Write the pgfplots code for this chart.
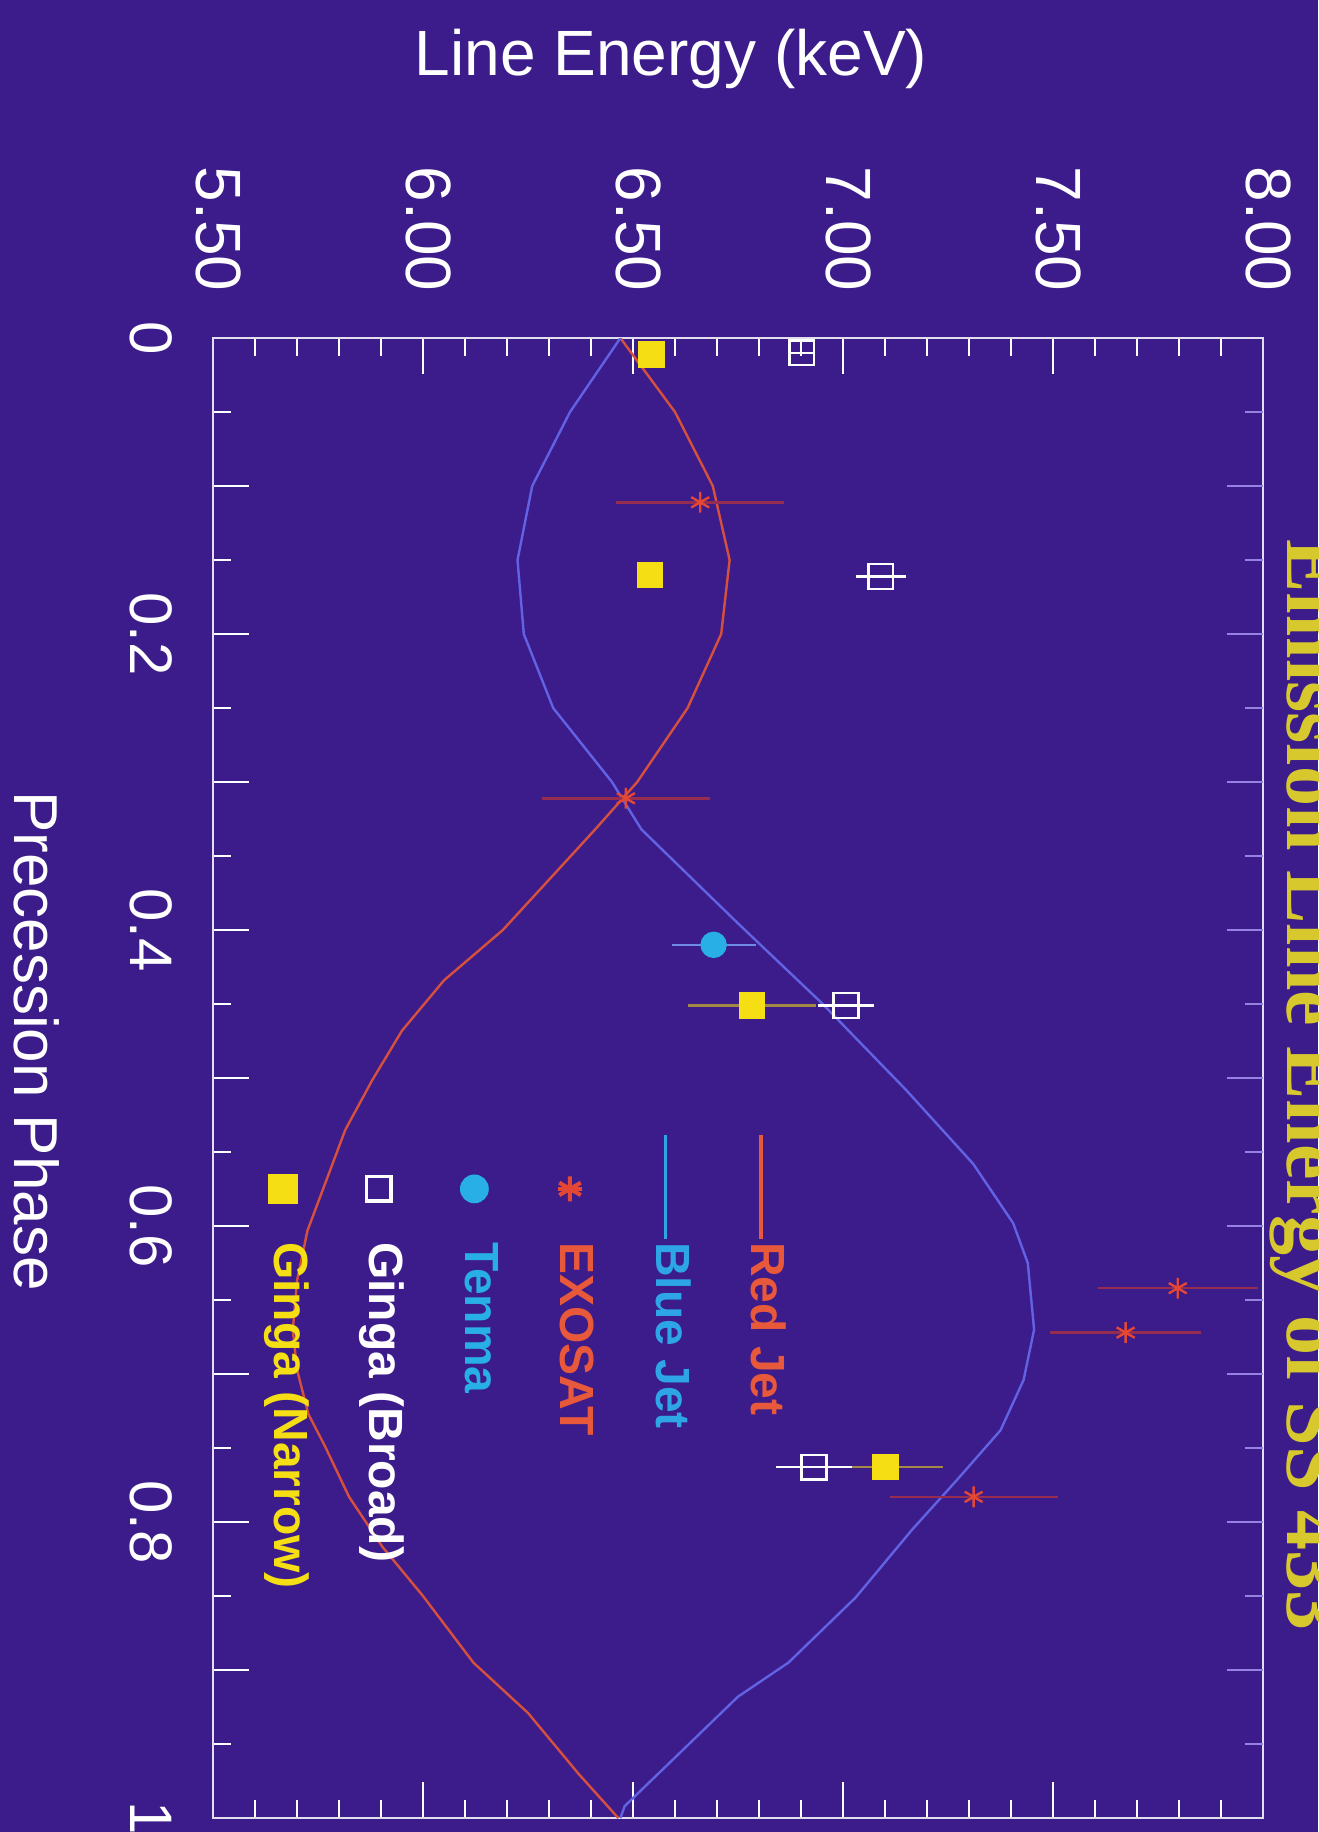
\documentclass[border=0pt]{standalone}
\usepackage{pgfplots}
\pgfplotsset{compat=1.18}
\usepackage{pgfplotstable}
\usepackage{fontspec}
\setmainfont{Liberation Sans}
\newfontfamily\seriffont{Liberation Serif}
\definecolor{bg}{RGB}{60,28,138}
\definecolor{axiscol}{RGB}{225,222,238}
\definecolor{rightticks}{RGB}{150,130,225}
\definecolor{redjet}{RGB}{214,80,62}
\definecolor{bluejet}{RGB}{98,98,228}
\definecolor{legblue}{RGB}{45,165,230}
\definecolor{legred}{RGB}{232,88,58}
\definecolor{exo}{RGB}{228,72,52}
\definecolor{exobar}{RGB}{150,45,80}
\definecolor{tenma}{RGB}{40,175,230}
\definecolor{tenmabar}{RGB}{110,140,230}
\definecolor{ginga}{RGB}{245,222,20}
\definecolor{gingabar}{RGB}{165,135,70}
\definecolor{titlecol}{RGB}{215,200,45}
\newcommand\legtxt[2]{\rotatebox{-90}{\rule[-3pt]{0pt}{12pt}\textcolor{#1}{#2}}}

\pgfplotstableread{
p E
0.000 6.47
0.050 6.60
0.100 6.69
0.150 6.73
0.200 6.71
0.250 6.63
0.300 6.51
0.332 6.41
0.400 6.19
0.434 6.05
0.468 5.95
0.501 5.88
0.535 5.815
0.569 5.77
0.603 5.725
0.637 5.70
0.670 5.69
0.697 5.70
0.727 5.727
0.749 5.767
0.783 5.824
0.817 5.904
0.850 6.00
0.895 6.12
0.929 6.25
0.970 6.37
1.000 6.465
}\redjettab

\pgfplotstableread{
p E
0.000 6.47
0.050 6.35
0.100 6.26
0.150 6.225
0.200 6.24
0.250 6.31
0.300 6.45
0.332 6.52
0.3955 6.75
0.4495 6.95
0.508 7.15
0.558 7.31
0.598 7.405
0.625 7.44
0.670 7.455
0.704 7.43
0.738 7.375
0.772 7.27
0.805 7.165
0.851 7.03
0.895 6.87
0.918 6.75
0.992 6.48
1.000 6.47
}\bluejettab

\pgfplotstableread{
p E err
0.111 6.660 0.20
0.311 6.483 0.20
0.642 7.797 0.19
0.672 7.673 0.18
0.783 7.311 0.20
}\exosattab

\pgfplotstableread{
p E err
0.410 6.692 0.10
}\tenmatab

\pgfplotstableread{
p E err
0.010 6.902 0.03
0.161 7.090 0.06
0.451 7.007 0.067
0.763 6.931 0.09
}\broadtab

\pgfplotstableread{
p E err
0.011 6.544 0.03
0.160 6.540 0.0
0.451 6.784 0.152
0.763 7.101 0.137
}\narrowtab

\begin{document}
\begin{tikzpicture}
\fill[bg] (0pt,0pt) rectangle (329.5pt,-458pt);
\begin{axis}[
  at={(184.5pt,-269.5pt)}, anchor=center,
  scale only axis, width=262.5pt, height=370pt,
  xmin=5.5, xmax=8, ymin=0, ymax=1, y dir=reverse,
  axis line style={draw=axiscol, line width=0.7pt},
  tick align=inside,
  major tick length=9pt, minor tick length=4.5pt,
  tick style={draw=white, line width=0.7pt},
  xtick={5.5,6,6.5,7,7.5,8},
  xticklabels={5.50,6.00,6.50,7.00,7.50,8.00},
  minor x tick num=4,
  xtick pos=both,
  xticklabel pos=top,
  xticklabel style={font=\fontsize{16}{16}\selectfont, text=white, xshift=1.5pt, rotate=-90, anchor=east, inner sep=0pt},
  xticklabel shift=11.5pt,
  ytick={0,0.1,0.2,0.3,0.4,0.5,0.6,0.7,0.8,0.9,1},
  yticklabels={0,,0.2,,0.4,,0.6,,0.8,,1},
  minor ytick={0.05,0.15,0.25,0.35,0.45,0.55,0.65,0.75,0.85,0.95},
  ytick pos=left,
  yticklabel style={font=\fontsize{15}{15}\selectfont, text=white, rotate=-90, anchor=north, inner sep=0pt},
  yticklabel shift=10pt,
  /pgf/number format/assume math mode=true,
  legend columns=6,
  legend style={at={(axis cs:6.890,0.6045)}, anchor=north east,
    draw=none, fill=none, inner sep=0pt, column sep=0pt,
    /tikz/every even column/.append style={column sep=7.9pt},
    font=\bfseries\fontsize{12}{14}\selectfont},
  legend cell align=left,
  legend style={cells={anchor=north west, inner sep=0pt}},
]
\addplot[forget plot, redjet, line width=0.6pt] table[x=E, y=p]{\redjettab};
\addplot[forget plot, bluejet, line width=0.6pt] table[x=E, y=p]{\bluejettab};
\addplot[forget plot, only marks, mark=square*, mark size=3.1pt,
  mark options={fill=ginga, draw=ginga},
  error bars/.cd, x dir=both, x explicit, error mark=none,
  error bar style={gingabar, line width=0.6pt}]
  table[x=E, y=p, x error=err]{\narrowtab};
\addplot[forget plot, only marks, mark=square, mark size=3.1pt,
  mark options={draw=white, line width=0.6pt},
  error bars/.cd, x dir=both, x explicit, error mark=none,
  error bar style={white, line width=0.6pt}]
  table[x=E, y=p, x error=err]{\broadtab};
\addplot[forget plot, only marks, mark=*, mark size=3.1pt,
  mark options={fill=tenma, draw=tenma},
  error bars/.cd, x dir=both, x explicit, error mark=none,
  error bar style={tenmabar, line width=0.6pt}]
  table[x=E, y=p, x error=err]{\tenmatab};
\addplot[forget plot, only marks, mark=asterisk, mark size=2.6pt,
  mark options={draw=exo, line width=0.6pt},
  error bars/.cd, x dir=both, x explicit, error mark=none,
  error bar style={exobar, line width=0.6pt}]
  table[x=E, y=p, x error=err]{\exosattab};

\addlegendimage{legend image code/.code={\fill[overlay, ginga] (3.8pt,7.65pt) rectangle (10.8pt,14.65pt);}}
\addlegendentry{\legtxt{ginga}{Ginga (Narrow)}}
\addlegendimage{legend image code/.code={\draw[overlay, white, line width=0.9pt] (4.2pt,8.05pt) rectangle (10.4pt,14.25pt);}}
\addlegendentry{\legtxt{white}{Ginga (Broad)}}
\addlegendimage{legend image code/.code={\fill[overlay, tenma] (7.3pt,11.15pt) circle[radius=3.4pt];}}
\addlegendentry{\legtxt{tenma}{Tenma}}
\addlegendimage{legend image code/.code={\draw[overlay, exo, line width=1pt] plot[only marks, mark=asterisk, mark size=3.1pt] coordinates {(7.3pt,11.15pt)};
  \draw[overlay, exo, line width=1pt] plot[only marks, mark=-, mark size=3.1pt] coordinates {(7.3pt,11.15pt)};}}
\addlegendentry{\legtxt{legred}{EXOSAT}}
\addlegendimage{legend image code/.code={\draw[overlay, legblue, line width=0.85pt] (7.3pt,-1.35pt) -- (7.3pt,24.65pt);}}
\addlegendentry{\legtxt{legblue}{Blue Jet}}
\addlegendimage{legend image code/.code={\draw[overlay, legred, line width=1pt] (7.3pt,-1.35pt) -- (7.3pt,24.65pt);}}
\addlegendentry{\legtxt{legred}{Red Jet}}
\end{axis}
\begin{axis}[
  at={(184.5pt,-269.5pt)}, anchor=center,
  scale only axis, width=262.5pt, height=370pt,
  xmin=5.5, xmax=8, ymin=0, ymax=1, y dir=reverse,
  axis line style={draw=none},
  tick align=inside,
  major tick length=9pt, minor tick length=4.5pt,
  tick style={draw=rightticks, line width=0.7pt},
  xtick=\empty,
  ytick={0.1,0.2,0.3,0.4,0.5,0.6,0.7,0.8,0.9},
  yticklabels={},
  minor ytick={0.05,0.15,0.25,0.35,0.45,0.55,0.65,0.75,0.85,0.95},
  ytick pos=right,
]
\addplot[draw=none, forget plot] coordinates {(6,0.5)};
\end{axis}
\node[anchor=base, text=white, font=\fontsize{16}{16}\selectfont] at (167.75pt,-18.75pt) {Line Energy (keV)};
\node[anchor=base, rotate=-90, text=white, font=\fontsize{15.5}{15.5}\selectfont] at (3.5pt,-260.25pt) {Precession Phase};
\node[anchor=base, rotate=-90, text=titlecol, font=\seriffont\bfseries\fontsize{20}{20}\selectfont] at (321.75pt,-271.25pt) {Emission Line Energy of SS 433};
\pgfresetboundingbox
\useasboundingbox (0pt,0pt) rectangle (329.5pt,-458pt);
\end{tikzpicture}
\end{document}
